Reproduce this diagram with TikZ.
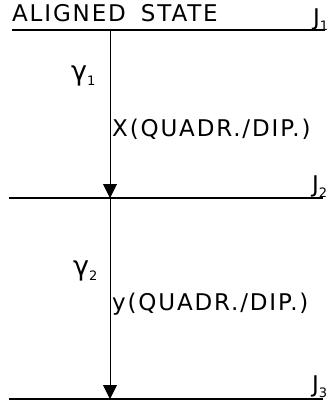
\documentclass[tikz,border=0pt]{standalone}
\usepackage{fontspec}
\setsansfont{DejaVu Sans}[LetterSpace=8]
\usetikzlibrary{arrows.meta}

\newcommand{\levsub}[1]{\raisebox{-0.4ex}{\fontsize{13}{15}\selectfont #1}}

\begin{document}
\begin{tikzpicture}[x=1pt, y=-1pt, font=\sffamily\fontsize{23}{27}\selectfont,
    level/.style={line width=2.4pt},
    decay/.style={line width=0.9pt, -{Triangle[width=14pt,length=14pt]}},
    lbl/.style={inner sep=0pt, anchor=base west}]

    \useasboundingbox (0,0) rectangle (335,402);

    % --- Livelli (J1, J2, J3) ---
    \coordinate (lev1w) at (12,30);  \coordinate (lev1e) at (325,30);
    \coordinate (lev2w) at (9,198);  \coordinate (lev2e) at (323,198);
    \coordinate (lev3w) at (9,399);  \coordinate (lev3e) at (323,399);
    \foreach \n in {1,2,3} {
        \draw[level] (lev\n w) -- (lev\n e);
    }

    % --- Punti di partenza / arrivo delle transizioni ---
    \coordinate (top1) at (110,30);
    \coordinate (top2) at (110,198);
    \coordinate (top3) at (110,399);

    % --- Transizioni gamma ---
    \draw[decay] (top1) -- (top2);
    \draw[decay] (top2) -- (top3);

    % --- Etichette ---
    \node[lbl] (state) at (12,21) {ALIGNED \hspace{6pt}STATE};
    \node[lbl] (j1) at (313,25) {J\levsub{1}};
    \node[lbl] (j2) at (312,192) {J\levsub{2}};
    \node[lbl] (j3) at (312,392) {J\levsub{3}};
    \node[lbl] (g1) at (71,80) {{\fontsize{27}{30}\selectfont γ}\levsub{1}};
    \node[lbl] (g2) at (73,275) {{\fontsize{27}{30}\selectfont γ}\levsub{2}};
    \node[lbl] (mx) at (112,136) {X(QUADR./DIP.)};
    \node[lbl] (my) at (112,310) {y(QUADR./DIP.)};

\end{tikzpicture}
\end{document}
